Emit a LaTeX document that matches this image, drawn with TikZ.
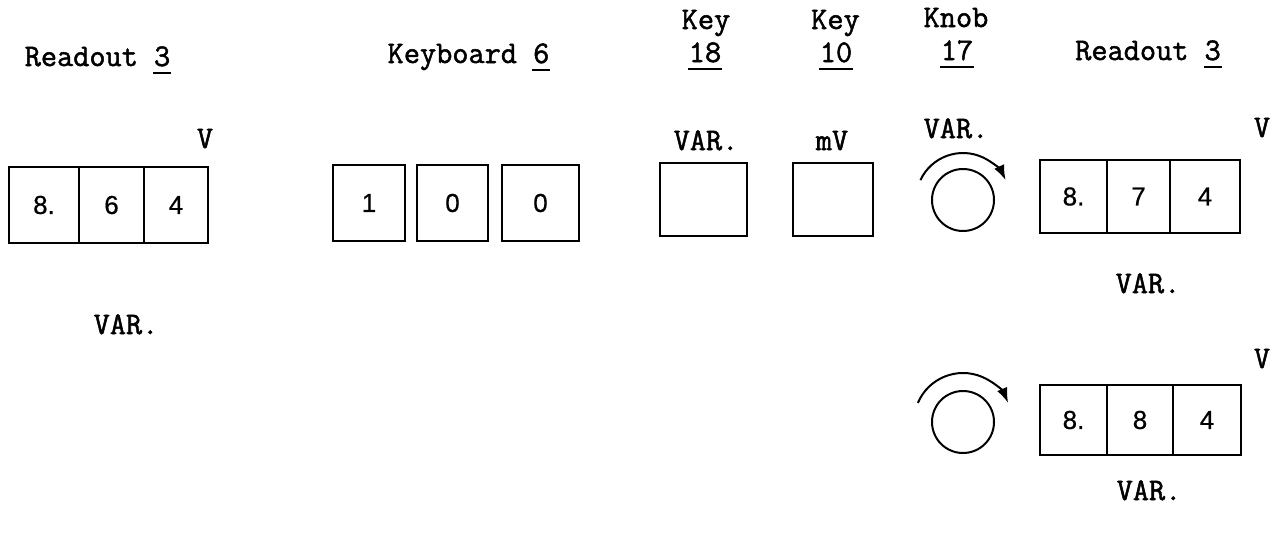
\documentclass[tikz,border=0pt]{standalone}
\usepackage{fontspec}
\newfontfamily\twfont{Latin Modern Mono}[FakeBold=1.6]
\newfontfamily\digfont{Liberation Sans}[FakeBold=0.6]
\usetikzlibrary{arrows.meta}
\newcommand\ulnum[1]{\setbox0\hbox{#1}\rlap{\kern-1pt\vrule width \dimexpr\wd0+2pt\relax height -5.5pt depth 7.5pt}\box0}
\tikzset{
  lbl/.style={font=\twfont\fontsize{31.4}{36}\selectfont, anchor=base, inner sep=0pt},
  cell/.style={draw, line width=2pt, inner sep=0pt, font=\digfont\fontsize{26}{30}\selectfont},
  knob/.style={draw, circle, line width=2pt, inner sep=0pt, minimum size=62pt},
  turn/.style={line width=2pt, -{Latex[length=15pt,width=11pt]}}
}
\begin{document}
\begin{tikzpicture}[x=1pt,y=-1pt]
\useasboundingbox (0,0) rectangle (1277,533);

% ---- Readout (left)
\node[lbl] (t1) at (97.5,66) {Readout \ulnum{3}};
\node[lbl] (v1) at (205,148) {V};
\node[cell, minimum width=70pt, minimum height=76pt] (r1a) at (44,205) {8.};
\node[cell, minimum width=65pt, minimum height=76pt] (r1b) at (111.5,205) {6};
\node[cell, minimum width=64pt, minimum height=76pt] (r1c) at (176,205) {4};
\node[lbl] (var1) at (126,334) {VAR.};

% ---- Keyboard
\node[lbl] (t2) at (468.5,63) {Keyboard \ulnum{6}};
\node[cell, minimum width=72pt, minimum height=76pt] (k1) at (369,203) {1};
\node[cell, minimum width=71pt, minimum height=76pt] (k2) at (452.5,203) {0};
\node[cell, minimum width=77pt, minimum height=76pt] (k3) at (540.5,203) {0};

% ---- Key 18
\node[lbl] (t3a) at (706,29) {Key};
\node[lbl] (t3b) at (705,62) {\ulnum{18}};
\node[lbl] (var3) at (706,150) {VAR.};
\node[cell, minimum width=87pt, minimum height=73pt] (key18) at (703.5,199.5) {};

% ---- Key 10
\node[lbl] (t4a) at (835.5,29) {Key};
\node[lbl] (t4b) at (836,62) {\ulnum{10}};
\node[lbl] (mv) at (832,150) {mV};
\node[cell, minimum width=80pt, minimum height=73pt] (key10) at (833,199.5) {};

% ---- Knob 17
\node[lbl] (t5a) at (956,27) {Knob};
\node[lbl] (t5b) at (957,60) {\ulnum{17}};
\node[lbl] (var5) at (956,138) {VAR.};
\node[knob] (kn1) at (963,200) {};
\draw[turn] ([shift={(155:47pt)}]kn1.center) arc[start angle=155, end angle=25, radius=47pt];

% ---- Readout (right, upper)
\node[lbl] (t6) at (1148,60) {Readout \ulnum{3}};
\node[lbl] (v2) at (1262,137) {V};
\node[cell, minimum width=67pt, minimum height=73pt] (r2a) at (1073.5,196.5) {8.};
\node[cell, minimum width=63pt, minimum height=73pt] (r2b) at (1138.5,196.5) {7};
\node[cell, minimum width=70pt, minimum height=73pt] (r2c) at (1205,196.5) {4};
\node[lbl] (var2) at (1148,293) {VAR.};

% ---- Knob and readout (right, lower)
\node[knob] (kn2) at (963,422) {};
\draw[turn] ([shift={(157:49pt)}]kn2.center) arc[start angle=157, end angle=23, radius=49pt];
\node[lbl] (v3) at (1262,368) {V};
\node[cell, minimum width=67pt, minimum height=70pt] (r3a) at (1073.5,420) {8.};
\node[cell, minimum width=66pt, minimum height=70pt] (r3b) at (1140,420) {8};
\node[cell, minimum width=68pt, minimum height=70pt] (r3c) at (1207,420) {4};
\node[lbl] (var4) at (1149,500) {VAR.};
\end{tikzpicture}
\end{document}
